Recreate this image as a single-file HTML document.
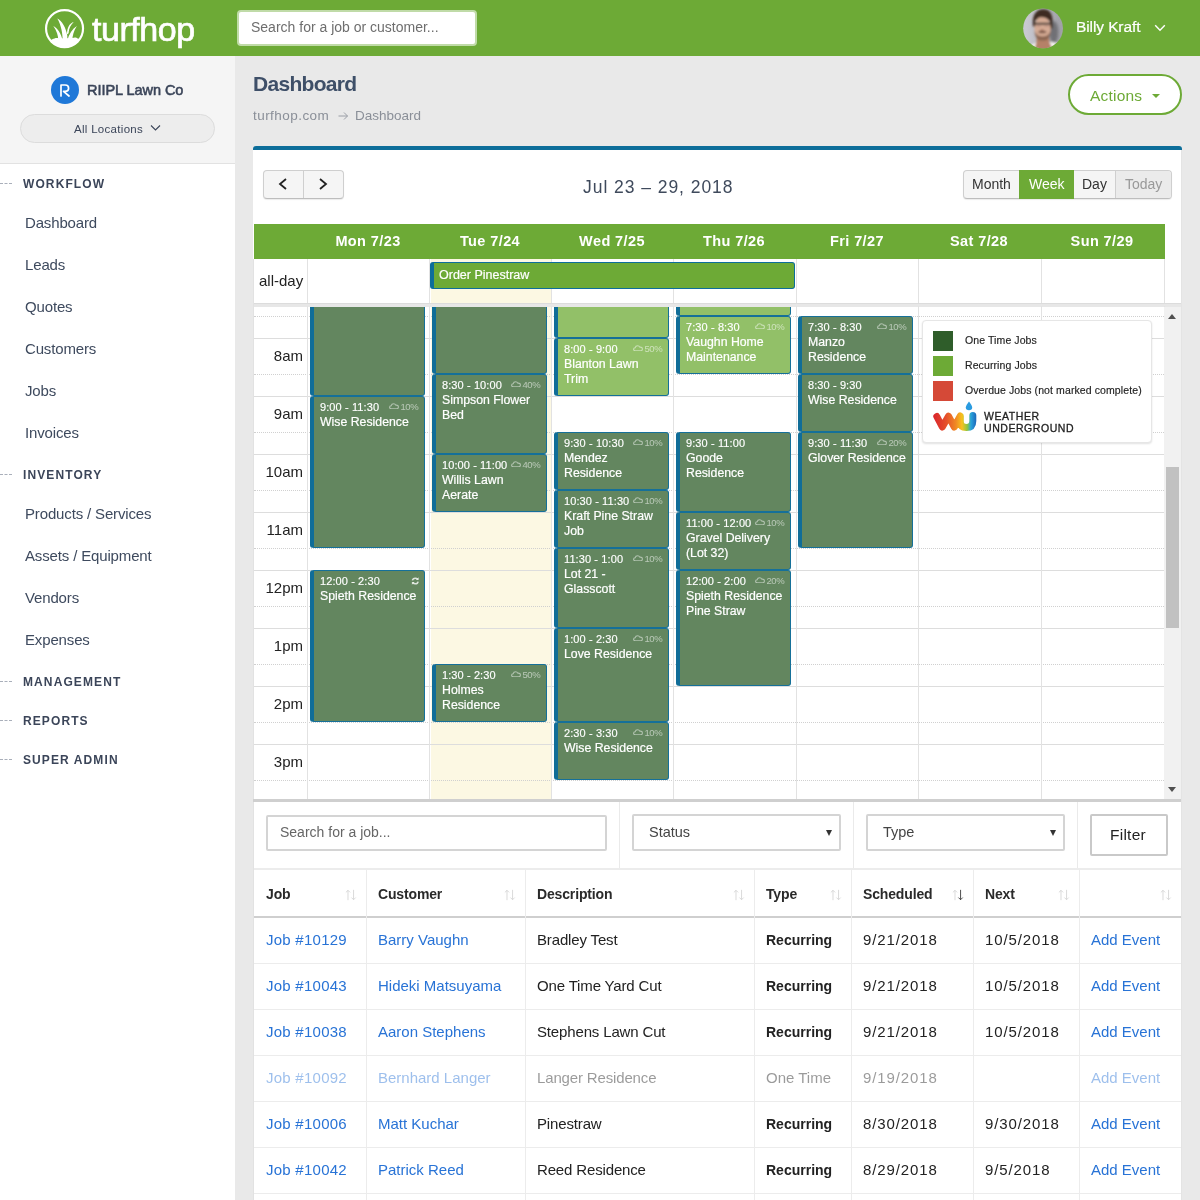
<!DOCTYPE html><html><head><meta charset="utf-8"><title>Dashboard</title><style>
*{box-sizing:border-box;margin:0;padding:0}
html,body{width:1200px;height:1200px;overflow:hidden}
body{font-family:"Liberation Sans",sans-serif;background:#e9e9e9;position:relative;color:#222}
.abs{position:absolute}
#hdr{position:absolute;left:0;top:0;width:1200px;height:56px;background:#6daa36}
#side{position:absolute;left:0;top:56px;width:235px;height:1144px;background:#fff}
#sidetop{position:absolute;left:0;top:0;width:235px;height:108px;background:#f5f5f5;border-bottom:1px solid #e2e2e2}
.sec{position:absolute;left:23px;font-size:12px;font-weight:bold;letter-spacing:1.1px;color:#3b4559;white-space:nowrap;line-height:14px}
.dash{position:absolute;left:0;width:12px;height:0;border-top:1px dashed #a9afba}
.mi{position:absolute;left:25px;letter-spacing:-0.15px;font-size:15px;color:#3e4a5e;white-space:nowrap;line-height:18px}
.t{position:absolute;white-space:nowrap}
#card{position:absolute;left:253px;top:146px;width:929px;height:1060px;background:#fff;border-top:4px solid #0d6e9a;border-radius:3px 3px 0 0}
.ev{position:absolute;width:115px;border:1px solid #157099;border-left:4px solid #106d98;border-radius:3px;color:#fff;overflow:hidden}
.ev.d{background:#63865f}
.ev.l{background:#92c068}
.ev .tm{position:absolute;left:6px;top:4px;font-size:11px;line-height:13px;white-space:nowrap;letter-spacing:0.1px;-webkit-text-stroke:0.15px #fff}
.ev .ti{position:absolute;left:6px;top:18px;font-size:12.3px;line-height:15px;width:112px;letter-spacing:0px;white-space:nowrap;-webkit-text-stroke:0.2px #fff}
.ev .pc{position:absolute;right:5.5px;top:2.5px;font-size:9.5px;line-height:13px;color:rgba(255,255,255,.55);white-space:nowrap;letter-spacing:-0.3px}
.ev .pc svg{vertical-align:0.5px;margin-right:1.5px}
.hl{position:absolute;left:254px;width:910px;height:0;border-top:1px solid #ddd}
.dl{position:absolute;left:254px;width:910px;height:0;border-top:1px dotted #d0d0d0}
.vl{position:absolute;width:0;border-left:1px solid #e2e2e2}
.tl{position:absolute;left:254px;width:49px;text-align:right;font-size:15px;color:#222;line-height:18px}
.dh{position:absolute;top:232px;width:122px;text-align:center;color:#fff;font-weight:bold;font-size:14.5px;line-height:18px;letter-spacing:0.4px}
.th{position:absolute;top:885px;font-weight:bold;font-size:14px;color:#2a2a2a;line-height:18px;letter-spacing:-0.15px}
.td{position:absolute;font-size:15px;line-height:18px;white-space:nowrap;color:#222}
.td.a{color:#2873d6}
.td.n{letter-spacing:0.9px}
.td.j{letter-spacing:0.25px}
.td.ds{letter-spacing:-0.15px}
.td.b{font-weight:bold;font-size:14px}
.fade{opacity:.45}
.sort{position:absolute;top:889px;width:12px;height:12px}
</style></head><body>
<div id="hdr">
<svg class="abs" style="left:40px;top:4px" width="50" height="50" viewBox="0 0 1200 1200">
<defs><clipPath id="lg"><circle cx="589" cy="589" r="450"/></clipPath></defs>
<circle cx="589" cy="589" r="444" fill="none" stroke="#fff" stroke-width="52"/>
<g clip-path="url(#lg)" fill="#fff">
<path d="M262 868 C300 852 318 832 348 830 C385 812 420 818 442 826 L780 814 C822 798 872 794 902 830 L945 838 L945 1100 L262 1100Z"/>
<path d="M415 345 C525 400 625 560 655 760 L655 880 L545 880 C545 720 510 500 415 345Z"/>
<path d="M320 530 C425 580 505 720 548 880 L438 880 C440 760 400 640 320 530Z"/>
<path d="M810 430 C715 455 645 560 648 730 L686 700 C690 585 742 492 810 430Z"/>
<path d="M885 530 C775 600 695 720 652 880 L778 880 C776 760 812 640 885 530Z"/>
</g></svg>
<div class="t" style="left:92px;top:10px;font-size:34px;line-height:38px;color:#fff;letter-spacing:-0.45px;-webkit-text-stroke:0.7px #fff">turfhop</div>
<div class="abs" style="left:237px;top:10px;width:240px;height:36px;background:#fff;border:2px solid #c0dba8;border-radius:4px"></div>
<div class="t" style="left:251px;top:19px;font-size:14px;line-height:17px;color:#6e6e6e">Search for a job or customer...</div>
<svg class="abs" style="left:1018px;top:3px" width="50" height="50" viewBox="0 0 1200 1200">
<defs><clipPath id="av"><circle cx="602" cy="607" r="478"/></clipPath>
<linearGradient id="avb" x1="0" x2="1" y1="0" y2="0"><stop offset="0.1" stop-color="#c9c9d1"/><stop offset="0.9" stop-color="#a2a2a9"/></linearGradient>
<filter id="bl" x="-10%" y="-10%" width="120%" height="120%"><feGaussianBlur stdDeviation="20"/></filter></defs>
<g clip-path="url(#av)">
<rect x="100" y="100" width="1000" height="1000" fill="url(#avb)"/>
<g filter="url(#bl)">
<ellipse cx="860" cy="700" rx="110" ry="270" fill="#6f6f74" filter="url(#bl)"/>
<path d="M250 1050 Q430 925 520 950 L700 950 Q800 905 990 990 L990 1200 L250 1200Z" fill="#f6f4f2"/>
<path d="M455 800 L735 800 L760 960 Q800 1000 830 1200 L400 1200 Q410 1000 440 960Z" fill="#b58167"/>
<path d="M362 570 C325 290 440 150 600 150 C785 150 862 290 826 610 L765 610 L765 400 L420 400 L415 570Z" fill="#3d2c22"/>
<ellipse cx="590" cy="612" rx="196" ry="292" fill="#d6ab94"/>
<path d="M398 470 C398 390 440 350 520 342 C620 334 705 345 782 460 C805 300 720 195 600 195 C470 195 396 300 398 470Z" fill="#3d2c22"/>
<path d="M398 650 C400 835 480 908 590 908 C700 908 780 835 782 650 C760 750 700 805 590 805 C480 805 420 750 398 650Z" fill="#7d5947" opacity=".85"/>
<ellipse cx="585" cy="695" rx="100" ry="30" fill="#5c3d30" opacity=".75"/>
<ellipse cx="578" cy="655" rx="45" ry="24" fill="#8e5e4c" opacity=".7"/>
<rect x="392" y="476" width="396" height="48" rx="10" fill="#38322f" opacity=".9"/>
<rect x="425" y="522" width="135" height="52" rx="20" fill="#bf9684" opacity=".8"/>
<rect x="620" y="522" width="135" height="52" rx="20" fill="#bf9684" opacity=".8"/>
</g></g></svg>
<div class="t" style="left:1076px;top:18px;font-size:15.5px;line-height:18px;color:#fff;letter-spacing:-0.1px;-webkit-text-stroke:0.2px #fff">Billy Kraft</div>
<svg class="abs" style="left:1154px;top:23px" width="12" height="10" viewBox="0 0 12 10"><path d="M1.2 2.2 L6 7.2 L10.800 2.2" fill="none" stroke="#fff" stroke-width="1.4"/></svg>
</div>
<div id="side"><div id="sidetop">
<div class="abs" style="left:51px;top:20px;width:28px;height:28px;border-radius:50%;background:#1f78d8"></div>
<svg class="abs" style="left:59px;top:27px" width="12" height="14" viewBox="0 0 12 14"><path d="M2 13 V2 H6.2 Q9.6 2 9.600 5.200 Q9.600 8.300 6.200 8.300 H4.5 L10 13" fill="none" stroke="#fff" stroke-width="1.7" stroke-linecap="round" stroke-linejoin="round"/></svg>
<div class="t" style="left:87px;top:25px;font-size:14.5px;line-height:18px;color:#3b4559;letter-spacing:-0.05px;-webkit-text-stroke:0.55px #3b4559">RIIPL Lawn Co</div>
<div class="abs" style="left:20px;top:58px;width:195px;height:29px;border-radius:15px;background:#ededed;border:1px solid #dcdcdc"></div>
<div class="t" style="left:74px;top:66px;font-size:11.5px;line-height:15px;color:#3b4559;letter-spacing:0.3px">All Locations</div>
<svg class="abs" style="left:150px;top:68px" width="11" height="8" viewBox="0 0 11 8"><path d="M1 1.5 L5.500 6 L10 1.500" fill="none" stroke="#3b4559" stroke-width="1.1"/></svg>
</div>
<div class="dash" style="top:127px"></div>
<div class="sec" style="top:121px">WORKFLOW</div>
<div class="dash" style="top:418px"></div>
<div class="sec" style="top:412px">INVENTORY</div>
<div class="dash" style="top:625px"></div>
<div class="sec" style="top:619px">MANAGEMENT</div>
<div class="dash" style="top:664px"></div>
<div class="sec" style="top:658px">REPORTS</div>
<div class="dash" style="top:703px"></div>
<div class="sec" style="top:697px">SUPER ADMIN</div>
<div class="mi" style="top:158px">Dashboard</div>
<div class="mi" style="top:200px">Leads</div>
<div class="mi" style="top:242px">Quotes</div>
<div class="mi" style="top:284px">Customers</div>
<div class="mi" style="top:326px">Jobs</div>
<div class="mi" style="top:368px">Invoices</div>
<div class="mi" style="top:449px">Products / Services</div>
<div class="mi" style="top:491px">Assets / Equipment</div>
<div class="mi" style="top:533px">Vendors</div>
<div class="mi" style="top:575px">Expenses</div>
</div>
<div class="t" style="left:253px;top:71px;font-size:21px;font-weight:bold;line-height:26px;color:#3e4f68;letter-spacing:-0.7px">Dashboard</div>
<div class="t" style="left:253px;top:108px;font-size:13.5px;line-height:16px;color:#8a8f98;letter-spacing:0.45px">turfhop.com</div>
<svg class="abs" style="left:338px;top:111px" width="11" height="10" viewBox="0 0 11 10"><path d="M0.5 5 H9.500 M6 1.500 L9.500 5 L6 8.500" fill="none" stroke="#9a9ea6" stroke-width="1"/></svg>
<div class="t" style="left:355px;top:108px;font-size:13.5px;line-height:16px;color:#8a8f98">Dashboard</div>
<div class="abs" style="left:1068px;top:74px;width:114px;height:41px;border:2px solid #6daa36;border-radius:21px;background:#fff"></div>
<div class="t" style="left:1090px;top:85.5px;font-size:15.5px;line-height:19px;color:#6daa36;letter-spacing:0.2px">Actions</div>
<div class="abs" style="left:1152px;top:94px;width:0;height:0;border-left:4px solid transparent;border-right:4px solid transparent;border-top:4px solid #6daa36"></div>
<div id="card"></div>
<div class="abs" style="left:263px;top:170px;width:81px;height:29px;border:1px solid #cfcfcf;border-bottom-color:#bdbdbd;border-radius:4px;background:#f5f5f5;box-shadow:0 1px 1px rgba(0,0,0,.08)"></div>
<div class="abs" style="left:303px;top:171px;width:1px;height:27px;background:#cfcfcf"></div>
<svg class="abs" style="left:277px;top:177px" width="12" height="14" viewBox="0 0 12 14"><path d="M9 2 L3 7 L9 12" fill="none" stroke="#222" stroke-width="1.8"/></svg>
<svg class="abs" style="left:317px;top:177px" width="12" height="14" viewBox="0 0 12 14"><path d="M3 2 L9 7 L3 12" fill="none" stroke="#222" stroke-width="1.8"/></svg>
<div class="t" style="left:583px;top:176px;font-size:17.5px;line-height:22px;color:#3f4a5c;letter-spacing:0.95px">Jul 23 – 29, 2018</div>
<div class="abs" style="left:963px;top:170px;width:209px;height:29px;border:1px solid #cfcfcf;border-bottom-color:#bdbdbd;border-radius:4px;background:#f5f5f5;box-shadow:0 1px 1px rgba(0,0,0,.08)"></div>
<div class="abs" style="left:1019px;top:170px;width:55px;height:29px;background:#6daa36"></div>
<div class="abs" style="left:1115px;top:171px;width:1px;height:27px;background:#cfcfcf"></div>
<div class="abs" style="left:1116px;top:171px;width:55px;height:27px;background:#ebebeb;border-radius:0 3px 3px 0"></div>
<div class="t" style="left:972px;top:176px;font-size:14px;line-height:17px;color:#333">Month</div>
<div class="t" style="left:1029px;top:176px;font-size:14px;line-height:17px;color:#fff">Week</div>
<div class="t" style="left:1082px;top:176px;font-size:14px;line-height:17px;color:#333">Day</div>
<div class="t" style="left:1125px;top:176px;font-size:14px;line-height:17px;color:#999">Today</div>
<div class="abs" style="left:254px;top:224px;width:911px;height:35px;background:#6daa36"></div>
<div class="dh" style="left:307px">Mon 7/23</div>
<div class="dh" style="left:429px">Tue 7/24</div>
<div class="dh" style="left:551px">Wed 7/25</div>
<div class="dh" style="left:673px">Thu 7/26</div>
<div class="dh" style="left:796px">Fri 7/27</div>
<div class="dh" style="left:918px">Sat 7/28</div>
<div class="dh" style="left:1041px">Sun 7/29</div>
<div class="abs" style="left:431px;top:259px;width:121px;height:540px;background:#fcf8e3"></div>
<div class="vl" style="left:253px;top:259px;height:540px"></div>
<div class="t" style="left:259px;top:272px;font-size:15px;line-height:18px;color:#222">all-day</div>
<div class="abs" style="left:254px;top:303px;width:927px;height:4px;background:#e7e7e7;border-top:1px solid #dcdcdc"></div>
<div class="dl" style="top:316px"></div>
<div class="hl" style="top:338px"></div>
<div class="dl" style="top:374px"></div>
<div class="tl" style="top:347px">8am</div>
<div class="hl" style="top:396px"></div>
<div class="dl" style="top:432px"></div>
<div class="tl" style="top:405px">9am</div>
<div class="hl" style="top:454px"></div>
<div class="dl" style="top:490px"></div>
<div class="tl" style="top:463px">10am</div>
<div class="hl" style="top:512px"></div>
<div class="dl" style="top:548px"></div>
<div class="tl" style="top:521px">11am</div>
<div class="hl" style="top:570px"></div>
<div class="dl" style="top:606px"></div>
<div class="tl" style="top:579px">12pm</div>
<div class="hl" style="top:628px"></div>
<div class="dl" style="top:664px"></div>
<div class="tl" style="top:637px">1pm</div>
<div class="hl" style="top:686px"></div>
<div class="dl" style="top:722px"></div>
<div class="tl" style="top:695px">2pm</div>
<div class="hl" style="top:744px"></div>
<div class="dl" style="top:780px"></div>
<div class="tl" style="top:753px">3pm</div>
<div class="vl" style="left:307px;top:259px;height:44px"></div>
<div class="vl" style="left:307px;top:306px;height:493px"></div>
<div class="vl" style="left:429px;top:259px;height:44px"></div>
<div class="vl" style="left:429px;top:306px;height:493px"></div>
<div class="vl" style="left:551px;top:259px;height:44px"></div>
<div class="vl" style="left:551px;top:306px;height:493px"></div>
<div class="vl" style="left:673px;top:259px;height:44px"></div>
<div class="vl" style="left:673px;top:306px;height:493px"></div>
<div class="vl" style="left:796px;top:259px;height:44px"></div>
<div class="vl" style="left:796px;top:306px;height:493px"></div>
<div class="vl" style="left:918px;top:259px;height:44px"></div>
<div class="vl" style="left:918px;top:306px;height:493px"></div>
<div class="vl" style="left:1041px;top:259px;height:44px"></div>
<div class="vl" style="left:1041px;top:306px;height:493px"></div>
<div class="vl" style="left:1164px;top:259px;height:44px"></div>
<div class="vl" style="left:1164px;top:306px;height:493px"></div>
<div class="abs" style="left:0;top:307px;width:1200px;height:492px;overflow:hidden">
<div class="ev d" style="left:310px;top:-7px;height:96px"></div>
<div class="ev d" style="left:310px;top:89px;height:152px"><div class="tm">9:00 - 11:30</div><div class="ti">Wise Residence</div><div class="pc"><svg width="10" height="6.5" viewBox="0 0 10 6.5"><path d="M2.500 5.800 Q0.600 5.800 0.600 4.200 Q0.600 2.800 2.200 2.700 Q2.600 0.700 4.600 0.700 Q6.200 0.700 6.800 2.100 Q9.400 1.900 9.400 4 Q9.400 5.800 7.600 5.800Z" fill="none" stroke="rgba(255,255,255,.5)" stroke-width="1.1"/></svg>10%</div></div>
<div class="ev d" style="left:310px;top:263px;height:152px"><div class="tm">12:00 - 2:30</div><div class="ti">Spieth Residence</div><svg style="position:absolute;left:97px;top:6px" width="8.500" height="8" viewBox="0 0 9 9"><path d="M1.300 3.900 Q1.800 1.300 4.500 1.300 Q6.200 1.300 7.200 2.500 M7.700 5.100 Q7.200 7.700 4.500 7.700 Q2.800 7.700 1.800 6.500" fill="none" stroke="rgba(255,255,255,.78)" stroke-width="1.7"/><path d="M5.300 3.300 H8.300 V0.300Z M3.700 5.700 H0.700 V8.700Z" fill="rgba(255,255,255,.78)"/></svg></div>
<div class="ev d" style="left:432px;top:-7px;height:74px"></div>
<div class="ev d" style="left:432px;top:67px;height:80px"><div class="tm">8:30 - 10:00</div><div class="ti">Simpson Flower<br>Bed</div><div class="pc"><svg width="10" height="6.5" viewBox="0 0 10 6.5"><path d="M2.500 5.800 Q0.600 5.800 0.600 4.200 Q0.600 2.800 2.200 2.700 Q2.600 0.700 4.600 0.700 Q6.200 0.700 6.800 2.100 Q9.400 1.900 9.400 4 Q9.400 5.800 7.600 5.800Z" fill="none" stroke="rgba(255,255,255,.5)" stroke-width="1.1"/></svg>40%</div></div>
<div class="ev d" style="left:432px;top:147px;height:58px"><div class="tm">10:00 - 11:00</div><div class="ti">Willis Lawn<br>Aerate</div><div class="pc"><svg width="10" height="6.5" viewBox="0 0 10 6.5"><path d="M2.500 5.800 Q0.600 5.800 0.600 4.200 Q0.600 2.800 2.200 2.700 Q2.600 0.700 4.600 0.700 Q6.200 0.700 6.800 2.100 Q9.400 1.900 9.400 4 Q9.400 5.800 7.600 5.800Z" fill="none" stroke="rgba(255,255,255,.5)" stroke-width="1.1"/></svg>40%</div></div>
<div class="ev d" style="left:432px;top:357px;height:58px"><div class="tm">1:30 - 2:30</div><div class="ti">Holmes<br>Residence</div><div class="pc"><svg width="10" height="6.5" viewBox="0 0 10 6.5"><path d="M2.500 5.800 Q0.600 5.800 0.600 4.200 Q0.600 2.800 2.200 2.700 Q2.600 0.700 4.600 0.700 Q6.200 0.700 6.800 2.100 Q9.400 1.900 9.400 4 Q9.400 5.800 7.600 5.800Z" fill="none" stroke="rgba(255,255,255,.5)" stroke-width="1.1"/></svg>50%</div></div>
<div class="ev l" style="left:554px;top:-7px;height:38px"></div>
<div class="ev l" style="left:554px;top:31px;height:58px"><div class="tm">8:00 - 9:00</div><div class="ti">Blanton Lawn<br>Trim</div><div class="pc"><svg width="10" height="6.5" viewBox="0 0 10 6.5"><path d="M2.500 5.800 Q0.600 5.800 0.600 4.200 Q0.600 2.800 2.200 2.700 Q2.600 0.700 4.600 0.700 Q6.200 0.700 6.800 2.100 Q9.400 1.900 9.400 4 Q9.400 5.800 7.600 5.800Z" fill="none" stroke="rgba(255,255,255,.5)" stroke-width="1.1"/></svg>50%</div></div>
<div class="ev d" style="left:554px;top:125px;height:58px"><div class="tm">9:30 - 10:30</div><div class="ti">Mendez<br>Residence</div><div class="pc"><svg width="10" height="6.5" viewBox="0 0 10 6.5"><path d="M2.500 5.800 Q0.600 5.800 0.600 4.200 Q0.600 2.800 2.200 2.700 Q2.600 0.700 4.600 0.700 Q6.200 0.700 6.800 2.100 Q9.400 1.900 9.400 4 Q9.400 5.800 7.600 5.800Z" fill="none" stroke="rgba(255,255,255,.5)" stroke-width="1.1"/></svg>10%</div></div>
<div class="ev d" style="left:554px;top:183px;height:58px"><div class="tm">10:30 - 11:30</div><div class="ti">Kraft Pine Straw<br>Job</div><div class="pc"><svg width="10" height="6.5" viewBox="0 0 10 6.5"><path d="M2.500 5.800 Q0.600 5.800 0.600 4.200 Q0.600 2.800 2.200 2.700 Q2.600 0.700 4.600 0.700 Q6.200 0.700 6.800 2.100 Q9.400 1.900 9.400 4 Q9.400 5.800 7.600 5.800Z" fill="none" stroke="rgba(255,255,255,.5)" stroke-width="1.1"/></svg>10%</div></div>
<div class="ev d" style="left:554px;top:241px;height:80px"><div class="tm">11:30 - 1:00</div><div class="ti">Lot 21 -<br>Glasscott</div><div class="pc"><svg width="10" height="6.5" viewBox="0 0 10 6.5"><path d="M2.500 5.800 Q0.600 5.800 0.600 4.200 Q0.600 2.800 2.200 2.700 Q2.600 0.700 4.600 0.700 Q6.200 0.700 6.800 2.100 Q9.400 1.900 9.400 4 Q9.400 5.800 7.600 5.800Z" fill="none" stroke="rgba(255,255,255,.5)" stroke-width="1.1"/></svg>10%</div></div>
<div class="ev d" style="left:554px;top:321px;height:94px"><div class="tm">1:00 - 2:30</div><div class="ti">Love Residence</div><div class="pc"><svg width="10" height="6.5" viewBox="0 0 10 6.5"><path d="M2.500 5.800 Q0.600 5.800 0.600 4.200 Q0.600 2.800 2.200 2.700 Q2.600 0.700 4.600 0.700 Q6.200 0.700 6.800 2.100 Q9.400 1.900 9.400 4 Q9.400 5.800 7.600 5.800Z" fill="none" stroke="rgba(255,255,255,.5)" stroke-width="1.1"/></svg>10%</div></div>
<div class="ev d" style="left:554px;top:415px;height:58px"><div class="tm">2:30 - 3:30</div><div class="ti">Wise Residence</div><div class="pc"><svg width="10" height="6.5" viewBox="0 0 10 6.5"><path d="M2.500 5.800 Q0.600 5.800 0.600 4.200 Q0.600 2.800 2.200 2.700 Q2.600 0.700 4.600 0.700 Q6.200 0.700 6.800 2.100 Q9.400 1.900 9.400 4 Q9.400 5.800 7.600 5.800Z" fill="none" stroke="rgba(255,255,255,.5)" stroke-width="1.1"/></svg>10%</div></div>
<div class="ev l" style="left:676px;top:-7px;height:16px"></div>
<div class="ev l" style="left:676px;top:9px;height:58px"><div class="tm">7:30 - 8:30</div><div class="ti">Vaughn Home<br>Maintenance</div><div class="pc"><svg width="10" height="6.5" viewBox="0 0 10 6.5"><path d="M2.500 5.800 Q0.600 5.800 0.600 4.200 Q0.600 2.800 2.200 2.700 Q2.600 0.700 4.600 0.700 Q6.200 0.700 6.800 2.100 Q9.400 1.900 9.400 4 Q9.400 5.800 7.600 5.800Z" fill="none" stroke="rgba(255,255,255,.5)" stroke-width="1.1"/></svg>10%</div></div>
<div class="ev d" style="left:676px;top:125px;height:80px"><div class="tm">9:30 - 11:00</div><div class="ti">Goode<br>Residence</div></div>
<div class="ev d" style="left:676px;top:205px;height:58px"><div class="tm">11:00 - 12:00</div><div class="ti">Gravel Delivery<br>(Lot 32)</div><div class="pc"><svg width="10" height="6.5" viewBox="0 0 10 6.5"><path d="M2.500 5.800 Q0.600 5.800 0.600 4.200 Q0.600 2.800 2.200 2.700 Q2.600 0.700 4.600 0.700 Q6.200 0.700 6.800 2.100 Q9.400 1.900 9.400 4 Q9.400 5.800 7.600 5.800Z" fill="none" stroke="rgba(255,255,255,.5)" stroke-width="1.1"/></svg>10%</div></div>
<div class="ev d" style="left:676px;top:263px;height:116px"><div class="tm">12:00 - 2:00</div><div class="ti">Spieth Residence<br>Pine Straw</div><div class="pc"><svg width="10" height="6.5" viewBox="0 0 10 6.5"><path d="M2.500 5.800 Q0.600 5.800 0.600 4.200 Q0.600 2.800 2.200 2.700 Q2.600 0.700 4.600 0.700 Q6.200 0.700 6.800 2.100 Q9.400 1.900 9.400 4 Q9.400 5.800 7.600 5.800Z" fill="none" stroke="rgba(255,255,255,.5)" stroke-width="1.1"/></svg>20%</div></div>
<div class="ev d" style="left:798px;top:9px;height:58px"><div class="tm">7:30 - 8:30</div><div class="ti">Manzo<br>Residence</div><div class="pc"><svg width="10" height="6.5" viewBox="0 0 10 6.5"><path d="M2.500 5.800 Q0.600 5.800 0.600 4.200 Q0.600 2.800 2.200 2.700 Q2.600 0.700 4.600 0.700 Q6.200 0.700 6.800 2.100 Q9.400 1.900 9.400 4 Q9.400 5.800 7.600 5.800Z" fill="none" stroke="rgba(255,255,255,.5)" stroke-width="1.1"/></svg>10%</div></div>
<div class="ev d" style="left:798px;top:67px;height:58px"><div class="tm">8:30 - 9:30</div><div class="ti">Wise Residence</div></div>
<div class="ev d" style="left:798px;top:125px;height:116px"><div class="tm">9:30 - 11:30</div><div class="ti">Glover Residence</div><div class="pc"><svg width="10" height="6.5" viewBox="0 0 10 6.5"><path d="M2.500 5.800 Q0.600 5.800 0.600 4.200 Q0.600 2.800 2.200 2.700 Q2.600 0.700 4.600 0.700 Q6.200 0.700 6.800 2.100 Q9.400 1.900 9.400 4 Q9.400 5.800 7.600 5.800Z" fill="none" stroke="rgba(255,255,255,.5)" stroke-width="1.1"/></svg>20%</div></div>
</div>
<div class="abs" style="left:430px;top:262px;width:365px;height:27px;background:#6daa36;border:1px solid #0d6e9a;border-left:4px solid #0d6e9a;border-radius:3px"></div>
<div class="t" style="left:439px;top:268px;font-size:12.5px;line-height:15px;color:#fff;letter-spacing:0;-webkit-text-stroke:0.2px #fff">Order Pinestraw</div>
<div class="abs" style="left:1164px;top:307px;width:17px;height:492px;background:#f1f1f1"></div>
<div class="abs" style="left:1166px;top:467px;width:13px;height:161px;background:#c1c1c1"></div>
<div class="abs" style="left:1168px;top:314px;width:0;height:0;border-left:4.5px solid transparent;border-right:4.5px solid transparent;border-bottom:5px solid #505050"></div>
<div class="abs" style="left:1168px;top:787px;width:0;height:0;border-left:4.5px solid transparent;border-right:4.5px solid transparent;border-top:5px solid #505050"></div>
<div class="abs" style="left:922px;top:320px;width:230px;height:123px;background:#fff;border:1px solid #e6e6e6;border-radius:4px;box-shadow:0 1px 2px rgba(0,0,0,.12)"></div>
<div class="abs" style="left:933px;top:331px;width:20px;height:20px;background:#2f5d2a"></div>
<div class="t" style="left:965px;top:334px;font-size:10.5px;line-height:13px;color:#222;letter-spacing:0.1px;-webkit-text-stroke:0.15px #222">One Time Jobs</div>
<div class="abs" style="left:933px;top:356px;width:20px;height:20px;background:#6daa36"></div>
<div class="t" style="left:965px;top:359px;font-size:10.5px;line-height:13px;color:#222;letter-spacing:0.1px;-webkit-text-stroke:0.15px #222">Recurring Jobs</div>
<div class="abs" style="left:933px;top:381px;width:20px;height:20px;background:#d54937"></div>
<div class="t" style="left:965px;top:384px;font-size:10.5px;line-height:13px;color:#222;letter-spacing:0.1px;-webkit-text-stroke:0.15px #222">Overdue Jobs (not marked complete)</div>
<svg class="abs" style="left:932px;top:400px" width="48" height="34" viewBox="0 0 48 34">
<defs><linearGradient id="wg" gradientUnits="userSpaceOnUse" x1="1" x2="45" y1="0" y2="0"><stop offset="0" stop-color="#d9232c"/><stop offset="0.3" stop-color="#e5502b"/><stop offset="0.52" stop-color="#f08a24"/><stop offset="0.66" stop-color="#f7c21e"/><stop offset="0.78" stop-color="#8ec63f"/><stop offset="0.86" stop-color="#2aa5dc"/><stop offset="1" stop-color="#1b5fb5"/></linearGradient></defs>
<path d="M4.800 16.500 L10.300 27 L16.500 16.200 L22.300 27 L28.300 16 V21.500 Q28.300 27.500 34.500 27.500 Q40.800 27.500 40.800 21 V15.500" fill="none" stroke="url(#wg)" stroke-width="7" stroke-linecap="round" stroke-linejoin="round"/>
<path d="M37 1.500 Q40.200 5.600 40.200 7.500 Q40.200 10.300 37 10.300 Q33.800 10.300 33.800 7.500 Q33.800 5.600 37 1.500Z" fill="#2a9be0"/>
</svg>
<div class="t" style="left:984px;top:410.4px;font-size:10.5px;line-height:12px;color:#222;letter-spacing:0.55px;-webkit-text-stroke:0.3px #222">WEATHER</div>
<div class="t" style="left:984px;top:422.1px;font-size:10.5px;line-height:12px;color:#222;letter-spacing:0.55px;-webkit-text-stroke:0.3px #222">UNDERGROUND</div>
<div class="abs" style="left:253px;top:799px;width:929px;height:3px;background:#cfcfcf"></div>
<div class="abs" style="left:266px;top:815px;width:341px;height:36px;border:2px solid #d4d4d4;border-radius:2px;background:#fff"></div>
<div class="t" style="left:280px;top:824px;font-size:14px;line-height:17px;color:#666">Search for a job...</div>
<div class="abs" style="left:632px;top:814px;width:209px;height:37px;border:2px solid #d4d4d4;border-radius:2px;background:#fff"></div>
<div class="t" style="left:649px;top:824px;font-size:14.5px;line-height:17px;color:#444">Status</div>
<div class="abs" style="left:826px;top:830px;width:0;height:0;border-left:3.5px solid transparent;border-right:3.5px solid transparent;border-top:6px solid #333"></div>
<div class="abs" style="left:866px;top:814px;width:199px;height:37px;border:2px solid #d4d4d4;border-radius:2px;background:#fff"></div>
<div class="t" style="left:883px;top:824px;font-size:14.5px;line-height:17px;color:#444">Type</div>
<div class="abs" style="left:1050px;top:830px;width:0;height:0;border-left:3.5px solid transparent;border-right:3.5px solid transparent;border-top:6px solid #333"></div>
<div class="abs" style="left:1090px;top:814px;width:78px;height:42px;border:2px solid #c9c9c9;border-radius:2px;background:#fff"></div>
<div class="t" style="left:1110px;top:826px;font-size:15.5px;line-height:18px;color:#222;letter-spacing:0.25px">Filter</div>
<div class="abs" style="left:619px;top:802px;width:1px;height:66px;background:#eaeaea"></div>
<div class="abs" style="left:853px;top:802px;width:1px;height:66px;background:#eaeaea"></div>
<div class="abs" style="left:1077px;top:802px;width:1px;height:66px;background:#eaeaea"></div>
<div class="abs" style="left:253px;top:868px;width:929px;height:2px;background:#ececec"></div>
<div class="th" style="left:266px">Job</div>
<svg class="sort" style="left:345px" viewBox="0 0 14 14"><path d="M3.500 13 V1.500 M1 4 L3.500 1.500 L6 4" fill="none" stroke="#d4d4d4" stroke-width="1"/><path d="M10 1 V12.500 M7.500 10 L10 12.500 L12.500 10" fill="none" stroke="#d4d4d4" stroke-width="1"/></svg>
<div class="th" style="left:378px">Customer</div>
<svg class="sort" style="left:504px" viewBox="0 0 14 14"><path d="M3.500 13 V1.500 M1 4 L3.500 1.500 L6 4" fill="none" stroke="#d4d4d4" stroke-width="1"/><path d="M10 1 V12.500 M7.500 10 L10 12.500 L12.500 10" fill="none" stroke="#d4d4d4" stroke-width="1"/></svg>
<div class="th" style="left:537px">Description</div>
<svg class="sort" style="left:733px" viewBox="0 0 14 14"><path d="M3.500 13 V1.500 M1 4 L3.500 1.500 L6 4" fill="none" stroke="#d4d4d4" stroke-width="1"/><path d="M10 1 V12.500 M7.500 10 L10 12.500 L12.500 10" fill="none" stroke="#d4d4d4" stroke-width="1"/></svg>
<div class="th" style="left:766px">Type</div>
<svg class="sort" style="left:830px" viewBox="0 0 14 14"><path d="M3.500 13 V1.500 M1 4 L3.500 1.500 L6 4" fill="none" stroke="#d4d4d4" stroke-width="1"/><path d="M10 1 V12.500 M7.500 10 L10 12.500 L12.500 10" fill="none" stroke="#d4d4d4" stroke-width="1"/></svg>
<div class="th" style="left:863px">Scheduled</div>
<svg class="sort" style="left:952px" viewBox="0 0 14 14"><path d="M3.500 13 V1.500 M1 4 L3.500 1.500 L6 4" fill="none" stroke="#d4d4d4" stroke-width="1"/><path d="M10 1 V12.500 M7.500 10 L10 12.500 L12.500 10" fill="none" stroke="#333" stroke-width="1"/></svg>
<div class="th" style="left:985px">Next</div>
<svg class="sort" style="left:1058px" viewBox="0 0 14 14"><path d="M3.500 13 V1.500 M1 4 L3.500 1.500 L6 4" fill="none" stroke="#d4d4d4" stroke-width="1"/><path d="M10 1 V12.500 M7.500 10 L10 12.500 L12.500 10" fill="none" stroke="#d4d4d4" stroke-width="1"/></svg>
<div class="th" style="left:1091px"></div>
<svg class="sort" style="left:1160px" viewBox="0 0 14 14"><path d="M3.500 13 V1.500 M1 4 L3.500 1.500 L6 4" fill="none" stroke="#d4d4d4" stroke-width="1"/><path d="M10 1 V12.500 M7.500 10 L10 12.500 L12.500 10" fill="none" stroke="#d4d4d4" stroke-width="1"/></svg>
<div class="abs" style="left:253px;top:916px;width:929px;height:2px;background:#cfcfcf"></div>
<div class="abs" style="left:253px;top:963px;width:929px;height:1px;background:#ececec"></div>
<div class="td a j" style="left:266px;top:931px">Job #10129</div>
<div class="td a" style="left:378px;top:931px">Barry Vaughn</div>
<div class="td ds" style="left:537px;top:931px">Bradley Test</div>
<div class="td b" style="left:766px;top:931px">Recurring</div>
<div class="td n" style="left:863px;top:931px">9/21/2018</div>
<div class="td n" style="left:985px;top:931px">10/5/2018</div>
<div class="td a" style="left:1091px;top:931px">Add Event</div>
<div class="abs" style="left:253px;top:1009px;width:929px;height:1px;background:#ececec"></div>
<div class="td a j" style="left:266px;top:977px">Job #10043</div>
<div class="td a" style="left:378px;top:977px">Hideki Matsuyama</div>
<div class="td ds" style="left:537px;top:977px">One Time Yard Cut</div>
<div class="td b" style="left:766px;top:977px">Recurring</div>
<div class="td n" style="left:863px;top:977px">9/21/2018</div>
<div class="td n" style="left:985px;top:977px">10/5/2018</div>
<div class="td a" style="left:1091px;top:977px">Add Event</div>
<div class="abs" style="left:253px;top:1055px;width:929px;height:1px;background:#ececec"></div>
<div class="td a j" style="left:266px;top:1023px">Job #10038</div>
<div class="td a" style="left:378px;top:1023px">Aaron Stephens</div>
<div class="td ds" style="left:537px;top:1023px">Stephens Lawn Cut</div>
<div class="td b" style="left:766px;top:1023px">Recurring</div>
<div class="td n" style="left:863px;top:1023px">9/21/2018</div>
<div class="td n" style="left:985px;top:1023px">10/5/2018</div>
<div class="td a" style="left:1091px;top:1023px">Add Event</div>
<div class="abs" style="left:253px;top:1101px;width:929px;height:1px;background:#ececec"></div>
<div class="td a j fade" style="left:266px;top:1069px">Job #10092</div>
<div class="td a fade" style="left:378px;top:1069px">Bernhard Langer</div>
<div class="td ds fade" style="left:537px;top:1069px">Langer Residence</div>
<div class="td fade" style="left:766px;top:1069px">One Time</div>
<div class="td n fade" style="left:863px;top:1069px">9/19/2018</div>
<div class="td a fade" style="left:1091px;top:1069px">Add Event</div>
<div class="abs" style="left:253px;top:1147px;width:929px;height:1px;background:#ececec"></div>
<div class="td a j" style="left:266px;top:1115px">Job #10006</div>
<div class="td a" style="left:378px;top:1115px">Matt Kuchar</div>
<div class="td ds" style="left:537px;top:1115px">Pinestraw</div>
<div class="td b" style="left:766px;top:1115px">Recurring</div>
<div class="td n" style="left:863px;top:1115px">8/30/2018</div>
<div class="td n" style="left:985px;top:1115px">9/30/2018</div>
<div class="td a" style="left:1091px;top:1115px">Add Event</div>
<div class="abs" style="left:253px;top:1193px;width:929px;height:1px;background:#ececec"></div>
<div class="td a j" style="left:266px;top:1161px">Job #10042</div>
<div class="td a" style="left:378px;top:1161px">Patrick Reed</div>
<div class="td ds" style="left:537px;top:1161px">Reed Residence</div>
<div class="td b" style="left:766px;top:1161px">Recurring</div>
<div class="td n" style="left:863px;top:1161px">8/29/2018</div>
<div class="td n" style="left:985px;top:1161px">9/5/2018</div>
<div class="td a" style="left:1091px;top:1161px">Add Event</div>
<div class="abs" style="left:366px;top:870px;width:1px;height:330px;background:#ececec"></div>
<div class="abs" style="left:525px;top:870px;width:1px;height:330px;background:#ececec"></div>
<div class="abs" style="left:754px;top:870px;width:1px;height:330px;background:#ececec"></div>
<div class="abs" style="left:851px;top:870px;width:1px;height:330px;background:#ececec"></div>
<div class="abs" style="left:973px;top:870px;width:1px;height:330px;background:#ececec"></div>
<div class="abs" style="left:1079px;top:870px;width:1px;height:330px;background:#ececec"></div>
<div class="abs" style="left:253px;top:802px;width:1px;height:398px;background:#e2e2e2"></div>
<div class="abs" style="left:1181px;top:150px;width:1px;height:1050px;background:#e4e4e4"></div>
</body></html>
